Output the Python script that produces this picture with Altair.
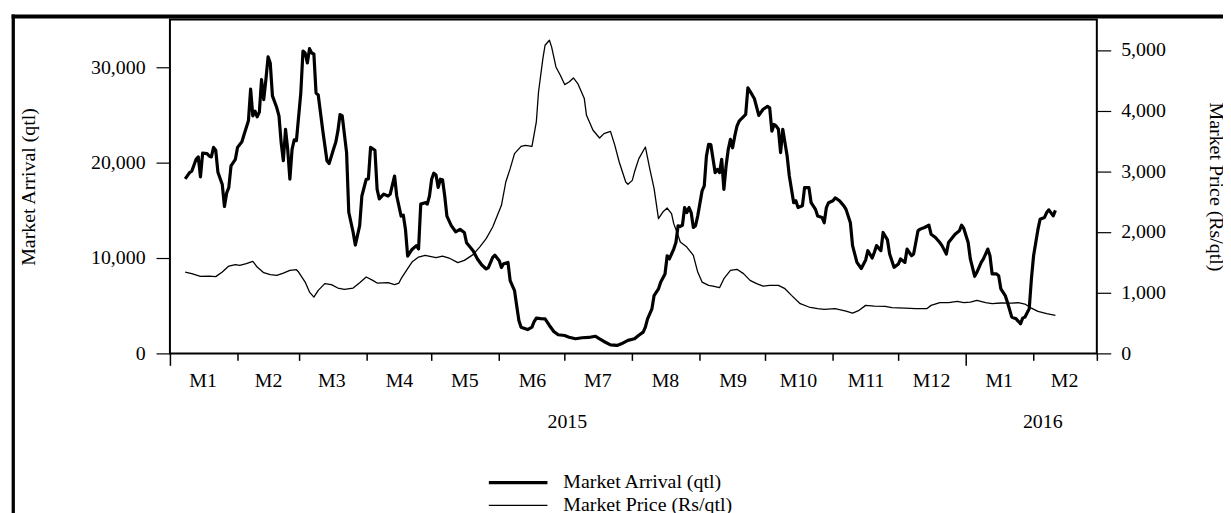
import altair as alt
import pandas as pd

FONT = "Liberation Serif"

series_names = ["Market Arrival (qtl)", "Market Price (Rs/qtl)"]

# Daily market arrival (qtl)
arrival_points = [
    ("2015-01-08", 18300), ("2015-01-10", 18950), ("2015-01-11", 19100), ("2015-01-13", 20350),
    ("2015-01-14", 20600), ("2015-01-15", 18500), ("2015-01-16", 21000), ("2015-01-18", 20950),
    ("2015-01-19", 20700), ("2015-01-20", 20600), ("2015-01-21", 21600), ("2015-01-22", 21300),
    ("2015-01-23", 19000), ("2015-01-25", 17700), ("2015-01-26", 15400), ("2015-01-27", 16800),
    ("2015-01-28", 17400), ("2015-01-29", 19650), ("2015-01-31", 20350), ("2015-02-01", 21600),
    ("2015-02-03", 22200), ("2015-02-04", 22950), ("2015-02-06", 24400), ("2015-02-07", 27700),
    ("2015-02-08", 24900), ("2015-02-09", 25400), ("2015-02-10", 24800), ("2015-02-11", 25300),
    ("2015-02-12", 28700), ("2015-02-13", 26600), ("2015-02-14", 28700), ("2015-02-15", 31100),
    ("2015-02-16", 30450), ("2015-02-17", 27000), ("2015-02-19", 25750), ("2015-02-20", 24900),
    ("2015-02-21", 22100), ("2015-02-22", 20200), ("2015-02-23", 23500), ("2015-02-24", 21400),
    ("2015-02-25", 18260), ("2015-02-26", 21400), ("2015-02-27", 22400), ("2015-02-28", 22300),
    ("2015-03-02", 27300), ("2015-03-03", 31700), ("2015-03-04", 31500), ("2015-03-05", 30450),
    ("2015-03-06", 31950), ("2015-03-07", 31500), ("2015-03-08", 31400), ("2015-03-09", 27300),
    ("2015-03-10", 27100), ("2015-03-12", 23500), ("2015-03-14", 20200), ("2015-03-15", 19900),
    ("2015-03-17", 21400), ("2015-03-18", 22100), ("2015-03-19", 23300), ("2015-03-20", 25050),
    ("2015-03-21", 24900), ("2015-03-23", 21050), ("2015-03-24", 14800), ("2015-03-26", 12700),
    ("2015-03-27", 11360), ("2015-03-29", 13400), ("2015-03-30", 16500), ("2015-04-01", 18260),
    ("2015-04-02", 18300), ("2015-04-03", 21600), ("2015-04-05", 21300), ("2015-04-06", 17200),
    ("2015-04-07", 16200), ("2015-04-09", 16700), ("2015-04-11", 16500), ("2015-04-12", 16700),
    ("2015-04-14", 18600), ("2015-04-15", 16500), ("2015-04-17", 14400), ("2015-04-18", 14500),
    ("2015-04-19", 13000), ("2015-04-20", 10200), ("2015-04-22", 10900), ("2015-04-24", 11300),
    ("2015-04-25", 10950), ("2015-04-26", 15650), ("2015-04-28", 15800), ("2015-04-29", 15650),
    ("2015-04-30", 16500), ("2015-05-01", 18260), ("2015-05-02", 18900), ("2015-05-03", 18700),
    ("2015-05-04", 17400), ("2015-05-05", 18260), ("2015-05-06", 18200), ("2015-05-07", 16500),
    ("2015-05-08", 14400), ("2015-05-10", 13400), ("2015-05-12", 12750), ("2015-05-14", 13000),
    ("2015-05-16", 12680), ("2015-05-17", 11600), ("2015-05-20", 10770), ("2015-05-22", 9900),
    ("2015-05-24", 9270), ("2015-05-26", 8850), ("2015-05-27", 9000), ("2015-05-29", 10070),
    ("2015-05-30", 10300), ("2015-06-01", 9720), ("2015-06-02", 9000), ("2015-06-03", 9400),
    ("2015-06-05", 9540), ("2015-06-06", 7630), ("2015-06-08", 6580), ("2015-06-09", 5000),
    ("2015-06-10", 3450), ("2015-06-11", 2750), ("2015-06-14", 2500), ("2015-06-16", 2750),
    ("2015-06-17", 3340), ("2015-06-18", 3700), ("2015-06-20", 3650), ("2015-06-22", 3620),
    ("2015-06-24", 2930), ("2015-06-26", 2300), ("2015-06-28", 1950), ("2015-07-01", 1880),
    ("2015-07-03", 1700), ("2015-07-06", 1530), ("2015-07-09", 1640), ("2015-07-12", 1670),
    ("2015-07-15", 1800), ("2015-07-17", 1530), ("2015-07-19", 1250), ("2015-07-22", 900),
    ("2015-07-25", 840), ("2015-07-27", 1000), ("2015-07-30", 1360), ("2015-08-02", 1530),
    ("2015-08-04", 1900), ("2015-08-06", 2230), ("2015-08-07", 2750), ("2015-08-08", 3620),
    ("2015-08-10", 4670), ("2015-08-11", 6060), ("2015-08-13", 6760), ("2015-08-14", 7450),
    ("2015-08-16", 8330), ("2015-08-17", 10240), ("2015-08-18", 9900), ("2015-08-20", 10940),
    ("2015-08-21", 11630), ("2015-08-22", 13380), ("2015-08-23", 13300), ("2015-08-24", 13450),
    ("2015-08-25", 15290), ("2015-08-26", 14770), ("2015-08-27", 15290), ("2015-08-28", 14770),
    ("2015-08-29", 13200), ("2015-08-30", 13380), ("2015-08-31", 14420), ("2015-09-02", 17040),
    ("2015-09-03", 17560), ("2015-09-04", 20700), ("2015-09-05", 21920), ("2015-09-06", 21900),
    ("2015-09-08", 18950), ("2015-09-09", 19300), ("2015-09-10", 18950), ("2015-09-11", 20350),
    ("2015-09-12", 17200), ("2015-09-13", 19650), ("2015-09-14", 21400), ("2015-09-15", 22440),
    ("2015-09-16", 21560), ("2015-09-17", 22800), ("2015-09-18", 23830), ("2015-09-19", 24350),
    ("2015-09-20", 24600), ("2015-09-22", 25050), ("2015-09-23", 27840), ("2015-09-25", 27100),
    ("2015-09-26", 26700), ("2015-09-28", 24950), ("2015-09-30", 25600), ("2015-10-02", 25900),
    ("2015-10-03", 25750), ("2015-10-04", 23300), ("2015-10-05", 24000), ("2015-10-06", 23830),
    ("2015-10-07", 23500), ("2015-10-08", 21050), ("2015-10-09", 23500), ("2015-10-11", 20700),
    ("2015-10-12", 18600), ("2015-10-14", 15800), ("2015-10-15", 16000), ("2015-10-16", 15290),
    ("2015-10-18", 15470), ("2015-10-19", 17380), ("2015-10-21", 17380), ("2015-10-22", 15800),
    ("2015-10-24", 15100), ("2015-10-25", 14400), ("2015-10-27", 14250), ("2015-10-28", 13700),
    ("2015-10-29", 15290), ("2015-10-30", 15800), ("2015-11-01", 16000), ("2015-11-02", 16300),
    ("2015-11-03", 16170), ("2015-11-04", 16000), ("2015-11-06", 15470), ("2015-11-07", 15100),
    ("2015-11-09", 13700), ("2015-11-10", 11300), ("2015-11-12", 9540), ("2015-11-14", 8900),
    ("2015-11-16", 9800), ("2015-11-17", 10770), ("2015-11-19", 10000), ("2015-11-20", 10600),
    ("2015-11-21", 11300), ("2015-11-23", 10770), ("2015-11-24", 12680), ("2015-11-26", 11900),
    ("2015-11-27", 10420), ("2015-11-29", 9020), ("2015-12-01", 9370), ("2015-12-02", 9900),
    ("2015-12-04", 9540), ("2015-12-05", 10940), ("2015-12-07", 10240), ("2015-12-08", 10420),
    ("2015-12-10", 12860), ("2015-12-11", 13030), ("2015-12-13", 13200), ("2015-12-15", 13450),
    ("2015-12-16", 12500), ("2015-12-18", 12160), ("2015-12-20", 11630), ("2015-12-21", 11300),
    ("2015-12-23", 10420), ("2015-12-24", 11630), ("2015-12-27", 12500), ("2015-12-29", 12860),
    ("2015-12-30", 13450), ("2015-12-31", 13100), ("2016-01-02", 11630), ("2016-01-03", 9900),
    ("2016-01-05", 8080), ("2016-01-06", 8500), ("2016-01-08", 9540), ("2016-01-09", 9900),
    ("2016-01-11", 10940), ("2016-01-12", 10240), ("2016-01-13", 8330), ("2016-01-15", 8330),
    ("2016-01-16", 8150), ("2016-01-17", 6760), ("2016-01-19", 6060), ("2016-01-20", 5360),
    ("2016-01-22", 3800), ("2016-01-23", 3700), ("2016-01-24", 3620), ("2016-01-26", 3100),
    ("2016-01-27", 3700), ("2016-01-28", 3800), ("2016-01-30", 4670), ("2016-01-31", 7800),
    ("2016-02-01", 10240), ("2016-02-02", 11630), ("2016-02-03", 13000), ("2016-02-04", 14070),
    ("2016-02-06", 14250), ("2016-02-07", 14770), ("2016-02-08", 15050), ("2016-02-10", 14420),
    ("2016-02-11", 15000),
]

# Market price (Rs/qtl)
price_points = [
    ("2015-01-08", 1340), ("2015-01-11", 1314), ("2015-01-15", 1269), ("2015-01-19", 1274),
    ("2015-01-22", 1265), ("2015-01-25", 1340), ("2015-01-28", 1439), ("2015-01-31", 1462),
    ("2015-02-02", 1450), ("2015-02-05", 1478), ("2015-02-08", 1516), ("2015-02-10", 1423),
    ("2015-02-13", 1330), ("2015-02-16", 1297), ("2015-02-19", 1286), ("2015-02-22", 1324),
    ("2015-02-25", 1368), ("2015-02-28", 1379), ("2015-03-01", 1340), ("2015-03-04", 1175),
    ("2015-03-06", 1010), ("2015-03-08", 928), ("2015-03-10", 1038), ("2015-03-13", 1149),
    ("2015-03-16", 1132), ("2015-03-19", 1077), ("2015-03-22", 1055), ("2015-03-26", 1077),
    ("2015-03-29", 1165), ("2015-04-01", 1258), ("2015-04-04", 1203), ("2015-04-06", 1159),
    ("2015-04-11", 1165), ("2015-04-14", 1132), ("2015-04-16", 1159), ("2015-04-17", 1231),
    ("2015-04-20", 1396), ("2015-04-22", 1505), ("2015-04-25", 1588), ("2015-04-28", 1615),
    ("2015-05-03", 1577), ("2015-05-06", 1604), ("2015-05-09", 1571), ("2015-05-13", 1495),
    ("2015-05-16", 1533), ("2015-05-20", 1627), ("2015-05-23", 1752), ("2015-05-26", 1890),
    ("2015-05-29", 2082), ("2015-06-02", 2439), ("2015-06-04", 2824), ("2015-06-06", 3044),
    ("2015-06-08", 3292), ("2015-06-11", 3412), ("2015-06-13", 3428), ("2015-06-16", 3412),
    ("2015-06-18", 3813), ("2015-06-19", 4307), ("2015-06-21", 4857), ("2015-06-22", 5077),
    ("2015-06-24", 5159), ("2015-06-25", 5050), ("2015-06-27", 4719), ("2015-06-29", 4582),
    ("2015-07-01", 4429), ("2015-07-03", 4472), ("2015-07-05", 4538), ("2015-07-07", 4445),
    ("2015-07-10", 4198), ("2015-07-11", 3923), ("2015-07-14", 3676), ("2015-07-17", 3549),
    ("2015-07-19", 3621), ("2015-07-22", 3659), ("2015-07-24", 3428), ("2015-07-26", 3153),
    ("2015-07-29", 2824), ("2015-07-30", 2786), ("2015-08-01", 2851), ("2015-08-02", 2988),
    ("2015-08-04", 3209), ("2015-08-07", 3401), ("2015-08-09", 3044), ("2015-08-11", 2715),
    ("2015-08-13", 2220), ("2015-08-15", 2329), ("2015-08-17", 2395), ("2015-08-19", 2302),
    ("2015-08-20", 2138), ("2015-08-22", 1945), ("2015-08-23", 1835), ("2015-08-26", 1752),
    ("2015-08-29", 1615), ("2015-08-31", 1340), ("2015-09-02", 1175), ("2015-09-05", 1121),
    ("2015-09-07", 1110), ("2015-09-10", 1083), ("2015-09-12", 1231), ("2015-09-15", 1368),
    ("2015-09-18", 1385), ("2015-09-21", 1314), ("2015-09-24", 1203), ("2015-09-27", 1149),
    ("2015-09-30", 1110), ("2015-10-03", 1121), ("2015-10-07", 1121), ("2015-10-10", 1066),
    ("2015-10-13", 956), ("2015-10-17", 819), ("2015-10-21", 764), ("2015-10-25", 736),
    ("2015-10-28", 725), ("2015-11-02", 736), ("2015-11-07", 698), ("2015-11-10", 665),
    ("2015-11-13", 709), ("2015-11-16", 791), ("2015-11-20", 780), ("2015-11-25", 775),
    ("2015-11-28", 753), ("2015-12-04", 747), ("2015-12-09", 736), ("2015-12-14", 736),
    ("2015-12-16", 791), ("2015-12-20", 835), ("2015-12-24", 835), ("2015-12-28", 857),
    ("2015-12-31", 835), ("2016-01-03", 846), ("2016-01-06", 873), ("2016-01-10", 835),
    ("2016-01-13", 819), ("2016-01-17", 830), ("2016-01-22", 829), ("2016-01-25", 835),
    ("2016-01-28", 813), ("2016-01-31", 747), ("2016-02-03", 692), ("2016-02-07", 654),
    ("2016-02-11", 626),
]

x_domain = ["2015-01-01", "2016-03-01"]
month_starts = [
    "2015-01-01", "2015-02-01", "2015-03-01", "2015-04-01", "2015-05-01", "2015-06-01",
    "2015-07-01", "2015-08-01", "2015-09-01", "2015-10-01", "2015-11-01", "2015-12-01",
    "2016-01-01", "2016-02-01", "2016-03-01",
]
month_label_dates = [
    "2015-01-16", "2015-02-15", "2015-03-16", "2015-04-16", "2015-05-16", "2015-06-16",
    "2015-07-16", "2015-08-16", "2015-09-16", "2015-10-16", "2015-11-16", "2015-12-16",
    "2016-01-16", "2016-02-15",
]
year_label_dates = ["2015-07-02", "2016-02-05"]
left_ticks = [0, 10000, 20000, 30000]
right_ticks = [0, 1000, 2000, 3000, 4000, 5000]


def ms(s):
    return int((pd.Timestamp(s) - pd.Timestamp("1970-01-01")) // pd.Timedelta("1ms"))


arrival_df = pd.DataFrame(arrival_points, columns=["date", "arrival"])
arrival_df["series"] = series_names[0]
price_df = pd.DataFrame(price_points, columns=["date", "price"])
price_df["series"] = series_names[1]

xscale = alt.Scale(type="utc", domain=[ms(d) for d in x_domain], nice=False)
sw_scale = alt.Scale(type="point", domain=series_names, range=[3.2, 1.3], padding=0)
legend = alt.Legend(
    title=None, orient="none", legendX=319, legendY=456, direction="vertical",
    symbolType="stroke", symbolSize=3481, symbolStrokeColor="black",
    labelFont=FONT, labelFontSize=20, labelColor="black", labelLimit=600,
    labelOffset=14, clipHeight=20, rowPadding=3, padding=0,
)

arrival = alt.Chart(arrival_df).mark_line(color="black", strokeJoin="round").encode(
    x=alt.X("date:T", scale=xscale, axis=alt.Axis(
        orient="bottom", values=[ms(d) for d in month_starts], labels=False,
        domain=False, grid=False, title=None, tickColor="black", tickWidth=1.5,
        tickSize={"condition": {"test": "utcmonth(datum.value) === 0", "value": 12}, "value": 7},
    )),
    y=alt.Y("arrival:Q", scale=alt.Scale(domain=[0, 35000], nice=False), axis=alt.Axis(
        orient="left", values=left_ticks, format=",.0f", title=series_names[0],
        domain=False, grid=False, tickSize=14, tickWidth=1.2, labelPadding=11,
        titlePadding=52,
    )),
    strokeWidth=alt.StrokeWidth("series:N", scale=sw_scale, legend=legend),
)

price = alt.Chart(price_df).mark_line(color="black", strokeJoin="round").encode(
    x=alt.X("date:T", scale=xscale, axis=alt.Axis(
        orient="bottom", values=[ms(d) for d in month_label_dates], ticks=False, tickSize=0,
        domain=False, grid=False, title=None, labelPadding=17,
        labelExpr="'M' + (utcmonth(datum.value) + 1)", labelOverlap=False,
        labelFlush=False, labelBound=False,
    )),
    y=alt.Y("price:Q", scale=alt.Scale(domain=[0, 5500], nice=False), axis=alt.Axis(
        orient="right", values=right_ticks, format=",.0f", title=series_names[1],
        domain=False, grid=False, tickSize=14, tickWidth=1.2, labelPadding=10,
        titlePadding=40,
    )),
    strokeWidth=alt.StrokeWidth("series:N", scale=sw_scale, legend=legend),
)

years = alt.Chart(alt.Data(values=[{"date": d} for d in year_label_dates])).mark_point(opacity=0).encode(
    x=alt.X("date:T", scale=xscale, axis=alt.Axis(
        orient="bottom", values=[ms(d) for d in year_label_dates], ticks=False, tickSize=0,
        domain=False, grid=False, title=None, labelPadding=59,
        labelExpr="utcyear(datum.value)", labelOverlap=False, labelFlush=False,
        labelBound=False,
    )),
)

frame_left = alt.Chart(alt.Data(values=[{}])).mark_rule(color="black", strokeWidth=3.3).encode(
    x=alt.value(-157.7), y=alt.value(-5), y2=alt.value(600)
)
frame_top = alt.Chart(alt.Data(values=[{}])).mark_rule(color="black", strokeWidth=4).encode(
    x=alt.value(-159.4), x2=alt.value(1100), y=alt.value(-3)
)

chart = alt.layer(frame_left, frame_top, arrival, price, years).resolve_scale(
    y="independent"
).resolve_axis(
    x="independent", y="independent"
).properties(
    width=933, height=336,
    autosize=alt.AutoSizeParams(type="none"),
    padding={"left": 163, "top": 10, "right": 127, "bottom": 159},
    background="white",
).configure_view(
    stroke="black", strokeWidth=2
).configure_axis(
    labelFont=FONT, titleFont=FONT, labelFontSize=20, titleFontSize=20,
    titleFontWeight="normal", labelColor="black", titleColor="black", tickColor="black",
)

chart.save("out.html", embed_options={"renderer": "svg", "actions": False})
